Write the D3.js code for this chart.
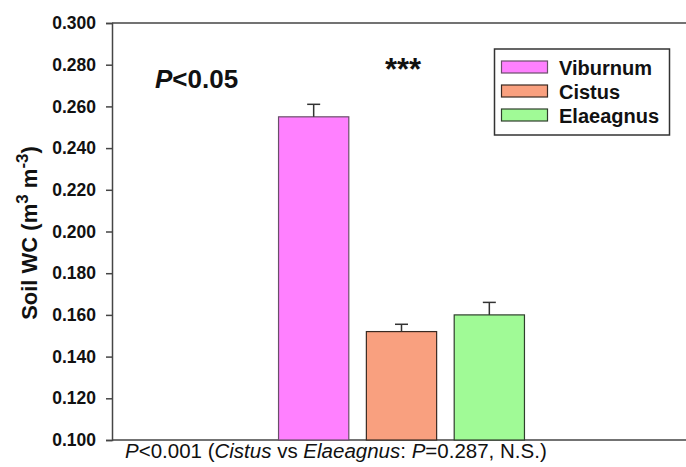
<!DOCTYPE html>
<html>
<head>
<meta charset="utf-8">
<script src="https://cdn.jsdelivr.net/npm/d3@7"></script>
<style>
  html, body { margin: 0; padding: 0; background: #fff; }
  svg { display: block; font-family: Arial, "Liberation Sans", Helvetica, sans-serif; }
</style>
</head>
<body>
<svg id="chart" width="686" height="467"></svg>
<script>
// Soil water content by shrub species (mean ± SE)
const species = ["Viburnum", "Cistus", "Elaeagnus"];
const meanWC = [0.255, 0.152, 0.160];
const seWC = [0.006, 0.0035, 0.006];
const fillColors = ["#FF80FF", "#F9A07F", "#A0FA96"];
const strokeColors = ["#6a4f6a", "#3a2a22", "#2f3f2c"];
const yTicks = [0.100, 0.120, 0.140, 0.160, 0.180, 0.200, 0.220, 0.240, 0.260, 0.280, 0.300];

const svg = d3.select("#chart");
const frameLeft = 112;
const frameRight = 690;

const y = d3.scaleLinear().domain([0.1, 0.3]).range([440, 23]);
// Band scale positions the three bars within the data frame
const x = d3.scaleBand()
  .domain(species)
  .range([268, 535])
  .paddingInner(0.2)
  .paddingOuter(0.12);

const axisColor = "#454545";

// Frame: top and bottom lines run past the visible right edge
svg.append("line").attr("x1", frameLeft).attr("x2", frameRight)
  .attr("y1", y(0.3)).attr("y2", y(0.3))
  .attr("stroke", axisColor).attr("stroke-width", 1.5);
svg.append("line").attr("x1", frameLeft).attr("x2", frameRight)
  .attr("y1", y(0.1)).attr("y2", y(0.1))
  .attr("stroke", axisColor).attr("stroke-width", 1.5);

// Left axis
const yAxis = d3.axisLeft(y).tickValues(yTicks)
  .tickFormat(d3.format(".3f")).tickSizeOuter(0).tickSize(6).tickPadding(10);
const gy = svg.append("g").attr("transform", `translate(${frameLeft},0)`).call(yAxis);
gy.select(".domain").attr("stroke", axisColor).attr("stroke-width", 1.5);
gy.selectAll(".tick line").attr("stroke", axisColor).attr("stroke-width", 1.5);
gy.selectAll(".tick text")
  .attr("fill", "#111").style("font-size", "17.5px").style("font-weight", "bold")
  .style("font-family", "Arial, 'Liberation Sans', sans-serif");

// Y axis title with superscripts
const yTitle = svg.append("text")
  .attr("transform", "translate(37,233) rotate(-90)")
  .attr("text-anchor", "middle")
  .style("font-size", "22px").style("font-weight", "bold").attr("fill", "#111");
yTitle.append("tspan").text("Soil WC (m");
yTitle.append("tspan").attr("dy", -9).style("font-size", "17px").text("3");
yTitle.append("tspan").attr("dy", 9).text(" m");
yTitle.append("tspan").attr("dy", -9).style("font-size", "17px").text("-3");
yTitle.append("tspan").attr("dy", 9).text(")");

// Bars
const rows = species.map((s, i) => ({ s, m: meanWC[i], e: seWC[i], f: fillColors[i], c: strokeColors[i] }));
svg.append("g").selectAll("rect").data(rows).join("rect")
  .attr("x", d => x(d.s))
  .attr("width", x.bandwidth())
  .attr("y", d => y(d.m))
  .attr("height", d => y(0.1) - y(d.m))
  .attr("fill", d => d.f)
  .attr("stroke", d => d.c)
  .attr("stroke-width", 1.2);

// Error bars (upper only)
const eb = svg.append("g").attr("stroke", "#333").attr("stroke-width", 1.5);
rows.forEach(d => {
  const cx = x(d.s) + x.bandwidth() / 2;
  eb.append("line").attr("x1", cx).attr("x2", cx).attr("y1", y(d.m)).attr("y2", y(d.m + d.e));
  eb.append("line").attr("x1", cx - 6.5).attr("x2", cx + 6.5).attr("y1", y(d.m + d.e)).attr("y2", y(d.m + d.e));
});

// Annotations
const pTxt = svg.append("text").attr("x", 155).attr("y", 88)
  .style("font-size", "26px").style("font-weight", "bold").attr("fill", "#111");
pTxt.append("tspan").style("font-style", "italic").text("P");
pTxt.append("tspan").text("<0.05");

svg.append("text").attr("x", 403).attr("y", 80).attr("text-anchor", "middle")
  .style("font-size", "31px").style("font-weight", "bold").attr("fill", "#111").text("***");

// Legend
const lg = svg.append("g");
lg.append("rect").attr("x", 494.5).attr("y", 49).attr("width", 175).attr("height", 86)
  .attr("fill", "#fff").attr("stroke", "#333").attr("stroke-width", 1.5);
rows.forEach((d, i) => {
  const cy = 67 + i * 24;
  lg.append("rect").attr("x", 501.5).attr("y", cy - 6).attr("width", 46).attr("height", 12)
    .attr("fill", d.f).attr("stroke", d.c).attr("stroke-width", 1.2);
  lg.append("text").attr("x", 559).attr("y", cy + 8)
    .style("font-size", "20px").style("font-weight", "bold").attr("fill", "#111").text(d.s);
});

// Footnote under the axis
const note = svg.append("text").attr("x", 125).attr("y", 458)
  .style("font-size", "20.5px").attr("fill", "#111");
note.append("tspan").style("font-style", "italic").text("P");
note.append("tspan").text("<0.001 (");
note.append("tspan").style("font-style", "italic").text("Cistus");
note.append("tspan").text(" vs ");
note.append("tspan").style("font-style", "italic").text("Elaeagnus");
note.append("tspan").text(": ");
note.append("tspan").style("font-style", "italic").text("P");
note.append("tspan").text("=0.287, N.S.)");
</script>
</body>
</html>
